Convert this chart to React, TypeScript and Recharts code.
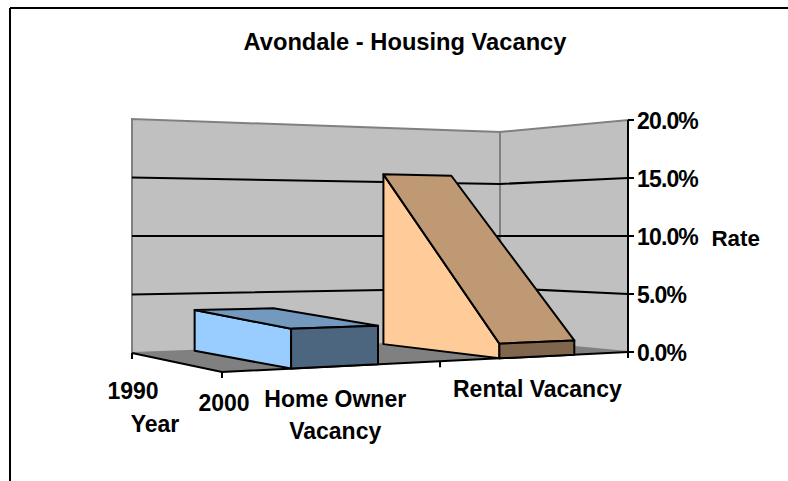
import React from "react";
import { Bar, BarChart, CartesianGrid, XAxis, YAxis } from "recharts";

const categories = ["Home Owner Vacancy", "Rental Vacancy"];
const y1990 = [3.55, 15.7];
const y2000 = [3.0, 1.2];
const years = ["1990", "2000"];
const yTicks = [0, 5, 10, 15, 20];

const data = categories.map((name, i) => ({ name, y1990: y1990[i], y2000: y2000[i] }));

const W = 788;
const H = 481;
const FONT = "'Liberation Sans', Arial, sans-serif";
const FS = 23;
const LINE = 2;

// plot box = the front edge of the floor, height = the value axis
const LEFT = 222;
const RIGHT = 628;
const TOP = 120;
const BOTTOM = 352;
const HORIZON = (TOP + BOTTOM) / 2;

// floor corners on screen
const BACK_L = [132, 353];
const BACK_R = [500, 340];
const FRONT_L = [222, 372];
const FRONT_R = [628, 352];

const persp = (u: number) => (1.16 * u) / (1 + 0.16 * u);

// u: 0-1 across the series, v: 0 back (1990) to 1 front (2000), h: pixels on the value axis
function place(u: number, v: number, h: number) {
  const bx = BACK_L[0] + (BACK_R[0] - BACK_L[0]) * u;
  const by = BACK_L[1] + (BACK_R[1] - BACK_L[1]) * u;
  const fx = FRONT_L[0] + (FRONT_R[0] - FRONT_L[0]) * u;
  const fy = FRONT_L[1] + (FRONT_R[1] - FRONT_L[1]) * u;
  const x = bx + (fx - bx) * v;
  const y = by + (fy - by) * v;
  const k = (y - HORIZON) / (BOTTOM - HORIZON);
  return [x, y - h * k];
}

const toU = (px: number) => persp((px - LEFT) / (RIGHT - LEFT));
const pts = (list: number[][]) => list.map((p) => p.join(",")).join(" ");

const seriesColors = [
  { side: "#99CCFF", top: "#7399BF", end: "#4D6680" },
  { side: "#FFCC99", top: "#BF9973", end: "#80664D" },
];

function Prism(props: any) {
  const { x, width, height, payload, index } = props;
  const h0 = height;
  const h1 = (height / payload.y1990) * payload.y2000;
  const a = toU(x);
  const b = toU(x + width);
  const c = seriesColors[index];
  const edge = { stroke: "#000", strokeWidth: LINE, strokeLinejoin: "round" as const };
  return (
    <g>
      <polygon
        points={pts([place(a, 0, 0), place(a, 1, 0), place(a, 1, h1), place(a, 0, h0)])}
        fill={c.side}
        {...edge}
      />
      <polygon
        points={pts([place(a, 0, h0), place(b, 0, h0), place(b, 1, h1), place(a, 1, h1)])}
        fill={c.top}
        {...edge}
      />
      <polygon
        points={pts([place(a, 1, 0), place(b, 1, 0), place(b, 1, h1), place(a, 1, h1)])}
        fill={c.end}
        {...edge}
      />
    </g>
  );
}

function WallLine(props: any) {
  const h = BOTTOM - props.y1;
  if (h < 1 || h > BOTTOM - TOP - 1) return <g />;
  return (
    <polyline
      points={pts([place(0, 0, h), place(1, 0, h), place(1, 1, h)])}
      fill="none"
      stroke="#000"
      strokeWidth={LINE}
    />
  );
}

function CategoryTick(props: any) {
  const { x, payload } = props;
  const u = toU(x);
  const [px, py] = place(u, 1, 0);
  const words = payload.value.split(" ");
  const lines = words.length > 2 ? [words.slice(0, 2).join(" "), words[2]] : [payload.value];
  return (
    <text x={px} y={py + 41} textAnchor="middle" fontFamily={FONT} fontSize={FS} fontWeight="bold" fill="#000">
      {lines.map((l: string, i: number) => (
        <tspan key={l} x={px} dy={i === 0 ? 0 : 32}>
          {l}
        </tspan>
      ))}
    </text>
  );
}

function Backdrop() {
  const full = BOTTOM - TOP;
  const label = { fontFamily: FONT, fontSize: FS, fontWeight: "bold", fill: "#000", textAnchor: "middle" as const };
  const midU = toU((LEFT + RIGHT) / 2);
  const midFoot = place(midU, 1, 0);
  return (
    <svg width={W} height={H} style={{ position: "absolute", left: 0, top: 0 }}>
      <line x1={10} y1={8} x2={W} y2={8} stroke="#000" strokeWidth={2} />
      <line x1={10} y1={8} x2={10} y2={H} stroke="#000" strokeWidth={2} />
      <text x={405} y={50} {...label} fontSize={23.7}>
        Avondale - Housing Vacancy
      </text>
      <polygon
        points={pts([place(0, 0, 0), place(1, 0, 0), place(1, 0, full), place(0, 0, full)])}
        fill="#C0C0C0"
        stroke="#808080"
        strokeWidth={2}
      />
      <polygon
        points={pts([place(1, 0, 0), place(1, 1, 0), place(1, 1, full), place(1, 0, full)])}
        fill="#C0C0C0"
        stroke="#808080"
        strokeWidth={2}
      />
      <polygon points={pts([BACK_L, BACK_R, FRONT_R, FRONT_L])} fill="#808080" />
      <polyline points={pts([BACK_L, FRONT_L, FRONT_R])} fill="none" stroke="#000" strokeWidth={LINE} />
      <line x1={BACK_L[0]} y1={BACK_L[1]} x2={BACK_L[0]} y2={BACK_L[1] + 6} stroke="#000" strokeWidth={LINE} />
      <line x1={FRONT_L[0]} y1={FRONT_L[1]} x2={FRONT_L[0]} y2={FRONT_L[1] + 6} stroke="#000" strokeWidth={LINE} />
      <line x1={midFoot[0]} y1={midFoot[1]} x2={midFoot[0]} y2={midFoot[1] + 6} stroke="#000" strokeWidth={LINE} />
      <line x1={FRONT_R[0]} y1={FRONT_R[1]} x2={FRONT_R[0]} y2={FRONT_R[1] + 6} stroke="#000" strokeWidth={LINE} />
      <text x={133} y={399} {...label}>
        {years[0]}
      </text>
      <text x={224} y={411} {...label}>
        {years[1]}
      </text>
      <text x={155} y={432} {...label}>
        Year
      </text>
    </svg>
  );
}

export default function App() {
  return (
    <div style={{ position: "absolute", left: 0, top: 0, width: W, height: H, overflow: "hidden", background: "#fff" }}>
      <Backdrop />
      <div style={{ position: "absolute", left: 0, top: 0 }}>
        <BarChart
          width={W}
          height={H}
          data={data}
          barSize={81}
          margin={{ left: LEFT, right: W - RIGHT - 132, top: TOP, bottom: H - BOTTOM - 40 }}
        >
          <CartesianGrid vertical={false} horizontal={(p: any) => <WallLine {...p} />} />
          <XAxis dataKey="name" height={40} axisLine={false} tickLine={false} interval={0} tick={<CategoryTick />} />
          <YAxis
            orientation="right"
            width={132}
            domain={[0, 20]}
            ticks={yTicks}
            interval={0}
            tickFormatter={(v: number) => `${v.toFixed(1)}%`}
            tick={{ fill: "#000", fontFamily: FONT, fontSize: FS, fontWeight: "bold", letterSpacing: -0.85, dy: 1 }}
            tickSize={6}
            tickMargin={3}
            axisLine={{ stroke: "#000", strokeWidth: 2 }}
            tickLine={{ stroke: "#000", strokeWidth: 2 }}
            label={{
              value: "Rate",
              position: "insideRight",
              offset: 0,
              dy: 2,
              fill: "#000",
              fontFamily: FONT,
              fontSize: 22.4,
              fontWeight: "bold",
            }}
          />
          <Bar dataKey="y1990" isAnimationActive={false} shape={<Prism />} />
        </BarChart>
      </div>
    </div>
  );
}
